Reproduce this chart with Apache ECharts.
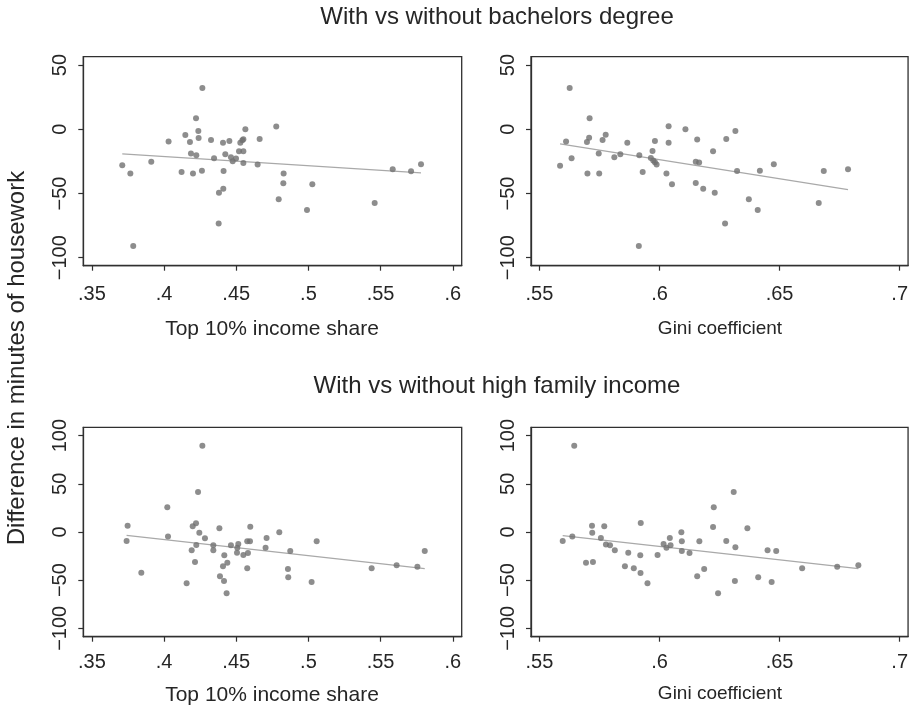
<!DOCTYPE html>
<html>
<head>
<meta charset="utf-8">
<script src="https://cdn.jsdelivr.net/npm/echarts@6/dist/echarts.min.js"></script>
<style>
html,body{margin:0;padding:0;background:#fff;}
#chart{width:911px;height:708px;}
</style>
</head>
<body>
<div id="chart"></div>
<script>
// ---- Data ----
// Panel 1: Top 10% income share vs difference (bachelors degree)
const p1X = [.371,.3766,.3786,.3911,.4031,.4121,.4147,.4179,.4186,.4200,.4221,.4223,.4237,.4239,.4262,.4265,.4325,.4346,.4380,.4378,.4408,.4410,.4412,.4424,.4452,.4463,.4475,.4498,.4519,.4528,.4542,.4549,.4549,.4549,.4563,.4648,.4662,.4777,.4794,.4828,.4826,.4990,.5027,.5459,.5584,.5711,.5780];
const p1Y = [-28.0,-34.5,-90.8,-25.2,-9.6,-33.2,-4.4,-9.9,-18.9,-34.5,8.6,-20.2,-1.3,-6.7,-32.2,32.2,-8.3,-22.6,-49.5,-73.4,-10.4,-46.2,-32.4,-19.5,-9.1,-21.8,-24.9,-22.8,-17.1,-10.4,-8.6,-7.8,-17.1,-26.2,0,-27.5,-7.5,2.1,-54.5,-34.5,-42.0,-62.8,-42.8,-57.3,-31.1,-32.7,-27.2];
// Panel 2: Gini coefficient vs difference (bachelors degree)
const p2X = [.5586,.5611,.5626,.5634,.5698,.5700,.5707,.5709,.5747,.5749,.5763,.5776,.5812,.5837,.5866,.5914,.5916,.5930,.5964,.5971,.5974,.5981,.5981,.5988,.6029,.6038,.6038,.6052,.6108,.6151,.6151,.6157,.6165,.6182,.6223,.6230,.6273,.6278,.6316,.6323,.6372,.6409,.6418,.6476,.6663,.6684,.6785];
const p2Y = [-28.3,-9.6,32.2,-22.6,-9.9,-34.5,-6.5,8.6,-18.9,-34.5,-8.3,-4.2,-21.8,-19.5,-10.4,-90.8,-20.2,-33.2,-22.3,-16.9,-24.4,-9.1,-25.7,-27.5,-34.5,2.3,-10.4,-42.8,0,-41.8,-25.2,-8.0,-25.9,-46.2,-17.1,-49.5,-73.4,-7.5,-1.3,-32.4,-54.5,-62.8,-32.2,-27.2,-57.3,-32.4,-31.1];
// Panel 3: Top 10% income share vs difference (high family income)
const p3X = [.3740,.3747,.3842,.4022,.4027,.4156,.4191,.4198,.4214,.4221,.4223,.4235,.4244,.4265,.4283,.4341,.4341,.4383,.4387,.4408,.4415,.4417,.4433,.4438,.4463,.4505,.4507,.4514,.4549,.4576,.4576,.4581,.4595,.4597,.4703,.4710,.4798,.4858,.4860,.4874,.5022,.5057,.5438,.5611,.5755,.5806];
const p3Y = [-9.3,6.6,-42.2,25.6,-4.8,-53.3,-19.0,5.9,-31.1,9.0,-13.5,41.5,-0.7,89.6,-6.6,-13.8,-19.0,3.8,-46.0,-35.6,-50.9,-24.2,-63.7,-31.8,-13.8,-21.5,-16.3,-12.5,-23.9,-9.7,-37.7,-21.8,-9.7,5.5,-16.3,-6.2,-0.3,-38.4,-47.1,-19.7,-51.9,-9.7,-37.7,-34.6,-36.0,-19.7];
// Panel 4: Gini coefficient vs difference (high family income)
const p4X = [.5597,.5637,.5645,.5694,.5719,.5720,.5723,.5756,.5770,.5777,.5794,.5814,.5856,.5870,.5893,.5920,.5921,.5922,.5950,.5992,.6017,.6029,.6043,.6046,.6091,.6093,.6093,.6125,.6157,.6166,.6186,.6223,.6226,.6244,.6278,.6309,.6314,.6316,.6366,.6411,.6450,.6467,.6486,.6594,.6740,.6828];
const p4Y = [-9.3,-4.8,89.6,-31.8,6.6,-0.7,-31.1,-6.2,5.9,-13.1,-13.8,-19.0,-35.6,-21.5,-37.7,-24.2,-42.6,9.3,-53.3,-23.9,-12.5,-16.3,-6.2,-13.8,-0.3,-9.7,-19.7,-21.8,-46.0,-9.7,-38.4,5.2,25.6,-63.7,-9.3,41.5,-50.9,-15.9,3.8,-47.1,-19.0,-51.9,-19.7,-37.7,-36.0,-34.6];
// Fitted lines: endpoints
const p1LineX = [.371,.578],  p1LineY = [-19.2,-34.0];
const p2LineX = [.5586,.6785], p2LineY = [-11.4,-47.0];
const p3LineX = [.374,.5806], p3LineY = [-3.5,-38.1];
const p4LineX = [.5597,.6828], p4LineY = [-3.8,-38.1];
// Tick labels
const top10Ticks = [0.35,0.4,0.45,0.5,0.55,0.6];
const giniTicks = [0.55,0.6,0.65,0.7];
const yTicksTop = [-100,-50,0,50];
const yTicksBottom = [-100,-50,0,50,100];
// Texts
const titleTop = 'With vs without bachelors degree';
const titleBottom = 'With vs without high family income';
const xTitleTop10 = 'Top 10% income share';
const xTitleGini = 'Gini coefficient';
const yTitle = 'Difference in minutes of housework';

// ---- Chart ----
const FONT = "'Liberation Sans', Arial, Helvetica, sans-serif";
const TXT = '#262626';
const AX = '#303030';
const DOT = '#707070';
const LINE = '#a9a9a9';

const zip = (xs, ys) => xs.map((x, i) => [x, ys[i]]);
const fmtX = v => String(+v.toFixed(3)).replace(/^0\./, '.');
const fmtY = v => String(v).replace('-', '\u2212');

const grids = [
  {left: 83.3, top: 56.7, width: 378.4, height: 209},
  {left: 531, top: 56.7, width: 377.3, height: 209},
  {left: 83.3, top: 427.3, width: 378.4, height: 209.4},
  {left: 531, top: 427.3, width: 377.3, height: 209.4}
].map(g => Object.assign({show: true, borderColor: AX, borderWidth: 1.3, backgroundColor: '#fff', containLabel: false}, g));

function xAxis(idx, min, max, ticks, margin) {
  return {
    type: 'value', gridIndex: idx, min: min, max: max,
    splitLine: {show: false},
    axisLine: {show: true, onZero: false, lineStyle: {color: AX, width: 1.3}},
    axisTick: {show: true, length: 5, customValues: ticks, lineStyle: {color: AX, width: 1.2}},
    axisLabel: {customValues: ticks, formatter: fmtX, margin: margin, color: TXT, fontSize: 20, fontFamily: FONT}
  };
}
function yAxis(idx, min, max, ticks) {
  return {
    type: 'value', gridIndex: idx, min: min, max: max,
    splitLine: {show: false},
    axisLine: {show: true, onZero: false, lineStyle: {color: AX, width: 1.3}},
    axisTick: {show: true, length: 5, customValues: ticks, lineStyle: {color: AX, width: 1.2}},
    axisLabel: {customValues: ticks, formatter: fmtY, rotate: 90, margin: 13, color: TXT, fontSize: 20, fontFamily: FONT}
  };
}

const xAxes = [
  xAxis(0, 0.344, 0.6062, top10Ticks, 19),
  xAxis(1, 0.5465, 0.7035, giniTicks, 19),
  xAxis(2, 0.344, 0.6062, top10Ticks, 16),
  xAxis(3, 0.5465, 0.7035, giniTicks, 16)
];
const yAxes = [
  yAxis(0, -106.2, 56.5, yTicksTop),
  yAxis(1, -106.2, 56.5, yTicksTop),
  yAxis(2, -108.7, 108.7, yTicksBottom),
  yAxis(3, -108.7, 108.7, yTicksBottom)
];

const panels = [[p1X,p1Y,p1LineX,p1LineY],[p2X,p2Y,p2LineX,p2LineY],[p3X,p3Y,p3LineX,p3LineY],[p4X,p4Y,p4LineX,p4LineY]];
const series = [];
panels.forEach((p, i) => {
  series.push({
    type: 'scatter', xAxisIndex: i, yAxisIndex: i, data: zip(p[0], p[1]),
    symbol: 'circle', symbolSize: 6, itemStyle: {color: DOT}, silent: true, z: 3
  });
  series.push({
    type: 'line', xAxisIndex: i, yAxisIndex: i, data: zip(p[2], p[3]),
    showSymbol: false, lineStyle: {color: LINE, width: 1.2}, silent: true, z: 2
  });
});

function txt(x, y, s, size, rot) {
  return {type: 'text', x: x, y: y, rotation: rot || 0,
    style: {text: s, fill: TXT, font: size + 'px ' + FONT, textAlign: 'center', textVerticalAlign: 'middle'}};
}

const chart = echarts.init(document.getElementById('chart'), null, {renderer: 'canvas'});
chart.setOption({
  animation: false,
  backgroundColor: '#fff',
  grid: grids,
  xAxis: xAxes,
  yAxis: yAxes,
  series: series,
  graphic: [
    txt(497, 17, titleTop, 24),
    txt(497, 386, titleBottom, 24),
    txt(272, 329, xTitleTop10, 21),
    txt(720, 329, xTitleGini, 19),
    txt(272, 695, xTitleTop10, 21),
    txt(720, 694, xTitleGini, 19),
    txt(17, 358, yTitle, 24, Math.PI / 2)
  ]
});
</script>
</body>
</html>
